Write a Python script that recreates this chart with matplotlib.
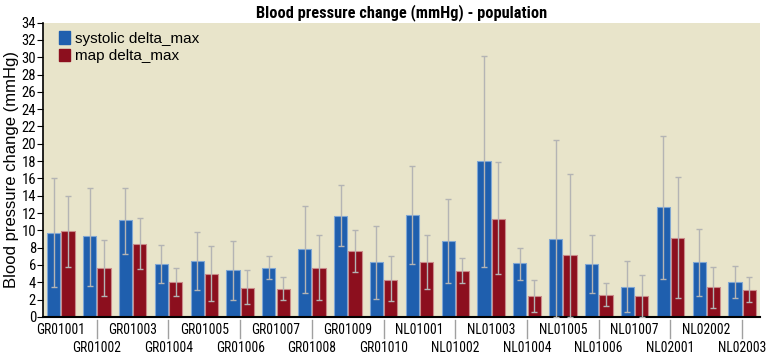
import numpy as np
import matplotlib
matplotlib.use("Agg")
import matplotlib.pyplot as plt
import matplotlib.transforms as mtransforms
from matplotlib.patches import Patch

# data
subjects = ["GR01001", "GR01002", "GR01003", "GR01004", "GR01005",
            "GR01006", "GR01007", "GR01008", "GR01009", "GR01010",
            "NL01001", "NL01002", "NL01003", "NL01004", "NL01005",
            "NL01006", "NL01007", "NL02001", "NL02002", "NL02003"]
systolic = [9.7, 9.3, 11.2, 6.1, 6.4, 5.4, 5.6, 7.8, 11.6, 6.3,
            11.8, 8.8, 18.0, 6.2, 9.0, 6.1, 3.5, 12.7, 6.3, 4.0]
systolic_lo = [3.4, 3.6, 7.3, 3.9, 3.1, 2.0, 4.4, 2.7, 8.2, 2.1,
               6.1, 3.9, 5.8, 4.2, 0.0, 2.7, 0.6, 4.4, 2.4, 2.2]
systolic_hi = [16.0, 14.9, 14.9, 8.3, 9.8, 8.8, 7.0, 12.8, 15.2, 10.5,
               17.4, 13.6, 30.2, 8.0, 20.4, 9.5, 6.4, 20.9, 10.1, 5.9]
map_ = [9.9, 5.6, 8.4, 4.0, 4.9, 3.3, 3.2, 5.7, 7.6, 4.3,
        6.3, 5.3, 11.3, 2.4, 7.2, 2.5, 2.4, 9.1, 3.4, 3.1]
map_lo = [5.8, 2.4, 5.5, 2.4, 1.8, 1.5, 1.9, 2.0, 5.2, 1.8,
          3.2, 3.9, 4.9, 0.6, 0.0, 1.2, 0.0, 2.2, 1.0, 1.7]
map_hi = [14.0, 8.9, 11.4, 5.7, 8.2, 5.4, 4.6, 9.5, 10.0, 7.0,
          9.4, 6.8, 17.9, 4.3, 16.5, 3.9, 4.8, 16.2, 5.8, 4.6]

BLUE = "#1f5fae"
RED = "#8c0f1e"
BG = "#e8e4ca"
ERR = "#b4b4b4"
COND = ["Roboto Condensed", "DejaVu Sans"]
REG = ["Liberation Sans", "DejaVu Sans"]

plt.rcParams['font.family'] = COND

fig = plt.figure(figsize=(7.67, 3.54), dpi=100)
ax = fig.add_axes([0.056, 0.105, 0.935, 0.831])
ax.set_facecolor(BG)

x = np.arange(len(subjects))
w = 0.37
s = np.array(systolic)
m = np.array(map_)
s_err = [s - np.array(systolic_lo), np.array(systolic_hi) - s]
m_err = [m - np.array(map_lo), np.array(map_hi) - m]

ax.bar(x - 0.2, s, w, color=BLUE, edgecolor="#7fa6d3", linewidth=0.8, zorder=2)
ax.bar(x + 0.2, m, w, color=RED, edgecolor="#c98a8a", linewidth=0.8, zorder=2)
ax.errorbar(x - 0.2, s, yerr=s_err, fmt="none", ecolor=ERR, elinewidth=1,
            capsize=2.5, capthick=1, zorder=3)
ax.errorbar(x + 0.2, m, yerr=m_err, fmt="none", ecolor=ERR, elinewidth=1,
            capsize=2.5, capthick=1, zorder=3)

ax.set_xlim(-0.5, len(subjects) - 0.5)
ax.set_ylim(0, 34)
ax.set_yticks(range(0, 35, 2))
ax.tick_params(axis="y", labelsize=10.5, length=4, pad=1)
ax.set_xticks([])
for sp in ["top", "right"]:
    ax.spines[sp].set_visible(False)
ax.spines["left"].set_linewidth(1.2)
ax.spines["bottom"].set_linewidth(1.5)

ax.set_ylabel("Blood pressure change (mmHg)", fontsize=12, family=REG, labelpad=2)
ax.set_title("Blood pressure change (mmHg) - population", fontsize=11.8,
             fontweight="bold", pad=4)

# staggered subject labels with separators
tr = mtransforms.blended_transform_factory(ax.transData, ax.transAxes)
for i, name in enumerate(subjects):
    if i % 2 == 0:
        ax.text(i, -0.022, name, transform=tr, ha="center", va="top", fontsize=9.8)
    else:
        ax.text(i, -0.082, name, transform=tr, ha="center", va="top", fontsize=9.8)
        ax.plot([i, i], [-0.012, -0.072], transform=tr, color="#a0a0a0",
                lw=1, clip_on=False)

handles = [Patch(color=BLUE, label="systolic delta_max"),
           Patch(color=RED, label="map delta_max")]
ax.legend(handles=handles, loc="upper left", frameon=False,
          prop={"family": REG, "size": 11},
          handlelength=0.75, handleheight=0.9, handletextpad=0.3,
          labelspacing=0.2, borderaxespad=0.15, bbox_to_anchor=(0.01, 1.0))

fig.savefig("out.png", dpi=100)
